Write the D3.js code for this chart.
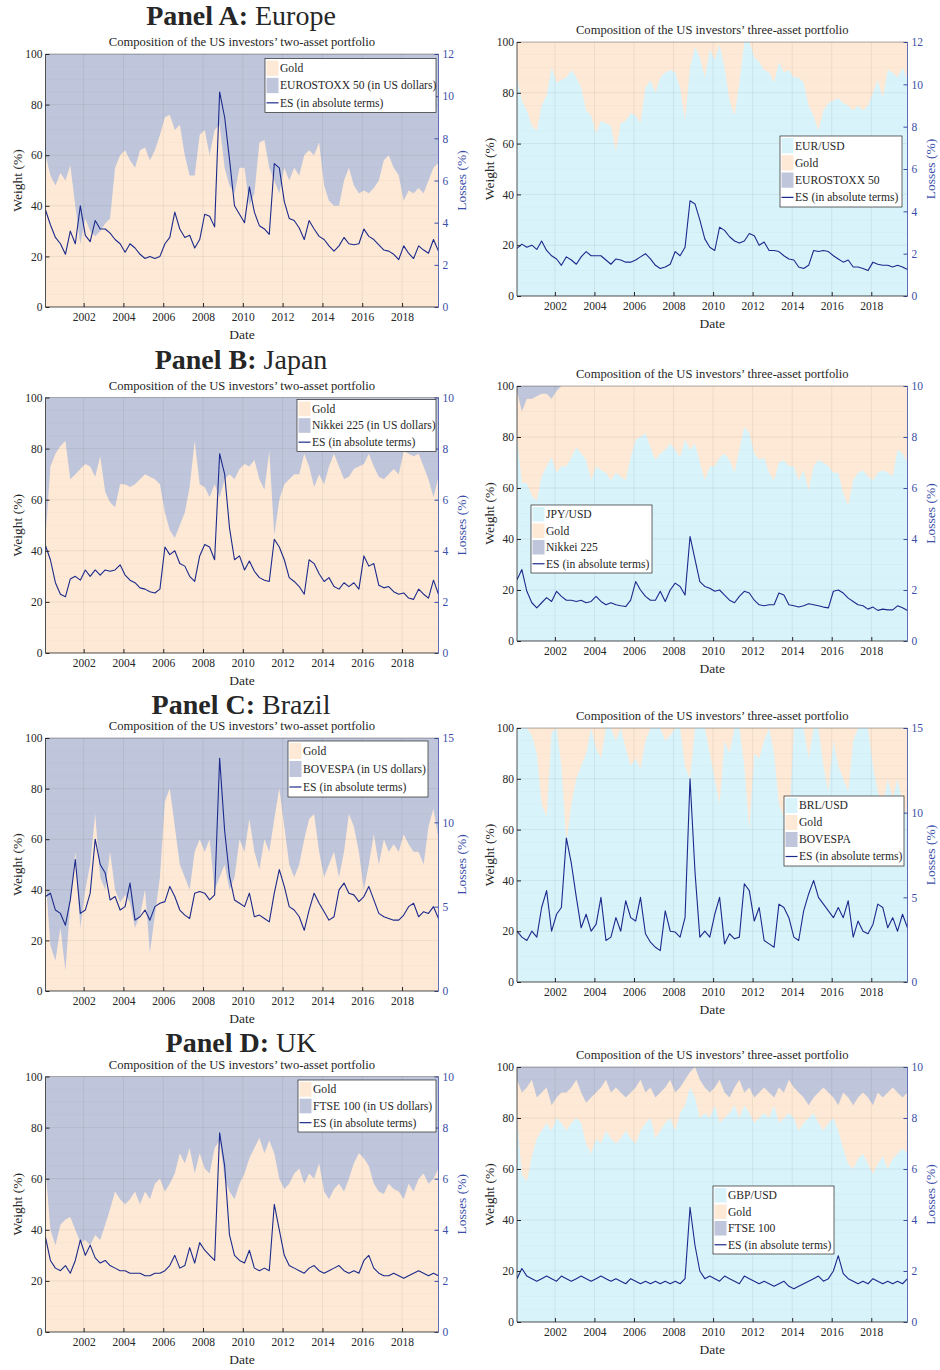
<!DOCTYPE html>
<html>
<head>
<meta charset="utf-8">
<script src="https://cdn.jsdelivr.net/npm/d3@7"></script>
<style>
body { margin: 0; background: #fff; }
svg text { font-family: "Liberation Serif", "DejaVu Serif", serif; fill: #262626; }
</style>
</head>
<body>
<svg width="940" height="1370"></svg>
<script>
// sampling grid: one observation per quarter, Feb 2000 .. Nov 2019
var years = [2000, 2001, 2002, 2003, 2004, 2005, 2006, 2007, 2008, 2009,
             2010, 2011, 2012, 2013, 2014, 2015, 2016, 2017, 2018, 2019];
var months = ['02', '05', '08', '11'];
var yearTicks = [2002, 2004, 2006, 2008, 2010, 2012, 2014, 2016, 2018];
var weightTicks = [0, 20, 40, 60, 80, 100];

// Panel A: Europe
var goldEurope2 = [60,52,48,53,50,56,40,25,35,30, 28,30,33,35,55,60,62,58,55,62,
                   63,58,62,68,75,76,70,72,60,52, 52,68,70,60,70,72,55,48,45,55,
                   55,40,45,65,66,55,50,45,55,50, 55,52,60,62,60,65,48,42,40,40,
                   50,55,48,45,46,45,47,50,58,60, 55,52,42,46,45,47,45,50,55,57];
var esEurope2 = [4.6,3.9,3.3,3.0,2.5,3.6,3.0,4.8,3.4,3.1, 4.1,3.7,3.7,3.5,3.2,3.0,2.6,3.0,2.8,2.5,
                 2.3,2.4,2.3,2.4,3.0,3.3,4.5,3.7,3.3,3.4, 2.8,3.2,4.4,4.3,3.8,10.2,9.0,7.0,4.8,4.4,
                 4.0,5.7,4.5,3.85,3.7,3.45,6.8,6.6,5.0,4.2, 4.1,3.75,3.2,4.1,3.7,3.35,3.2,2.9,2.65,2.9,
                 3.3,3.0,2.95,3.0,3.7,3.35,3.2,2.95,2.7,2.65, 2.5,2.25,2.9,2.55,2.3,2.9,2.7,2.55,3.2,2.65];
var fxEurope3 = [86,77,73,67,65,75,79,90,84,85, 86,89,86,82,73,71,64,69,68,67,
                 57,68,69,72,71,68,82,85,80,86, 88,89,88,82,69,90,98,94,86,97,
                 93,99,90,77,71,84,100,100,94,92, 89,88,84,92,88,89,86,86,84,75,
                 71,65,73,76,77,78,76,75,73,75, 73,75,80,85,78,89,88,86,90,85];
var stockEurope3 = []; // EUROSTOXX 50 never enters the three-asset portfolio
var esEurope3 = [2.25,2.45,2.3,2.4,2.2,2.6,2.15,1.9,1.75,1.45, 1.85,1.7,1.5,1.85,2.1,1.9,1.9,1.9,1.7,1.5,
                 1.75,1.7,1.6,1.6,1.7,1.85,2.0,1.75,1.45,1.3, 1.37,1.5,2.1,1.9,2.3,4.5,4.35,3.6,2.7,2.3,
                 2.15,3.25,3.1,2.8,2.6,2.5,2.6,2.95,2.85,2.4, 2.55,2.15,2.15,2.1,1.9,1.75,1.7,1.37,1.3,1.45,
                 2.15,2.1,2.15,2.1,1.9,1.75,1.6,1.7,1.37,1.37, 1.3,1.2,1.6,1.5,1.45,1.45,1.37,1.45,1.37,1.25];

// Panel B: Japan
var goldJapan2 = [45,73,78,81,83,68,70,72,74,73, 69,77,63,59,57,66,66,65,66,68,
                  70,69,68,66,55,48,45,50,55,65, 83,66,65,61,66,61,68,70,68,72,
                  74,73,75.5,68,64,79,46,60,66,68, 70,70,78,73,65,70,66,73,78,73,
                  68,69,72,73,74,78,73,69,68,70, 72,70,79,78,77,78,73,68,61,69];
var esJapan2 = [4.2,3.65,2.75,2.3,2.2,2.9,3.0,2.85,3.25,3.0, 3.25,3.05,3.25,3.2,3.25,3.45,3.05,2.85,2.75,2.55,
                2.5,2.4,2.35,2.5,4.15,3.85,4.0,3.5,3.4,3.0, 2.8,3.8,4.25,4.15,3.65,7.8,7.0,4.9,3.65,3.8,
                3.25,3.6,3.2,2.95,2.85,2.8,4.45,4.15,3.65,2.95, 2.8,2.6,2.3,3.65,3.5,3.1,2.8,2.95,2.6,2.5,
                2.75,2.6,2.75,2.5,3.8,3.4,3.5,2.65,2.55,2.6, 2.4,2.3,2.35,2.15,2.1,2.5,2.3,2.15,2.85,2.3];
var fxJapan3 = [80,62,62,57,55,64.5,68.5,72,66,68.5, 68.5,72,76,73.5,71,63,68.5,67,66,63,
                66,64.5,63,72,79,80,81.5,76,71,73.5, 75,77.5,75,72,79,75,77.5,70,63,68.5,
                68.5,72,73.5,71,66,75,84,81.5,73.5,71, 72,66,63,70,71,68.5,68.5,63,67,59,
                68.5,71,70,68.5,66,66,58,53,63,66, 67,64.5,63,66,67,66,64.5,75,73.5,70];
var stockJapan3 = [2,10,5,5,4,3,3,5,2]; // zero from 2002 on
var esJapan3 = [2.4,2.8,1.95,1.5,1.3,1.5,1.7,1.55,1.95,1.75, 1.6,1.6,1.55,1.6,1.5,1.55,1.75,1.55,1.42,1.5,
                1.42,1.38,1.35,1.6,2.33,2.0,1.75,1.6,1.6,1.95, 1.55,2.0,2.27,2.14,1.8,4.1,3.2,2.33,2.14,2.07,
                1.95,2.0,1.8,1.6,1.5,1.75,1.95,1.88,1.6,1.42, 1.38,1.42,1.42,1.88,1.8,1.42,1.38,1.33,1.38,1.46,
                1.42,1.38,1.33,1.3,1.95,2.0,1.88,1.68,1.55,1.42, 1.38,1.25,1.33,1.2,1.25,1.22,1.22,1.38,1.3,1.2];

// Panel C: Brazil
var goldBrazil2 = [45,18,12,25,8,35,55,25,40,50, 70,45,40,55,40,35,38,35,25,30,
                   40,15,30,45,75,80,65,50,45,40, 55,60,55,60,40,45,50,40,45,60,
                   55,68,55,48,60,55,68,80,65,50, 45,50,60,68,70,55,45,50,55,45,
                   55,70,65,55,40,50,62,50,60,55, 58,55,62,58,55,55,50,65,72,60];
var esBrazil2 = [5.6,5.8,4.8,4.6,3.9,5.4,7.8,4.6,4.8,5.8, 9.0,7.5,7.0,5.4,5.6,4.8,5.0,6.4,4.2,4.4,
                 4.8,4.2,5.0,5.2,5.3,6.2,5.6,4.8,4.5,4.3, 5.8,5.9,5.8,5.4,5.7,13.8,9.5,6.8,5.4,5.2,
                 5.0,5.8,4.4,4.5,4.3,4.1,5.8,7.2,6.2,5.0, 4.8,4.4,3.6,4.8,5.8,5.2,4.7,4.2,4.4,6.0,
                 6.4,5.8,5.7,5.3,5.6,6.2,5.4,4.6,4.4,4.3, 4.2,4.2,4.5,5.0,5.2,4.4,4.7,4.6,5.0,4.3];
var fxBrazil3 = [100,100,100,97,90,70,65,98,100,85, 55,70,80,85,90,100,92,88,100,100,
                 95,100,92,85,88,84,95,100,100,100, 95,97,100,100,85,80,100,100,100,90,
                 80,70,95,90,100,100,85,60,90,88, 95,100,90,70,65,60,100,100,100,88,
                 100,100,85,75,95,85,80,75,95,100, 100,100,85,75,70,80,72,80,70,65];
var stockBrazil3 = []; // BOVESPA never enters the three-asset portfolio
var esBrazil3 = [3.0,2.65,2.45,3.0,2.65,4.4,5.4,3.0,4.0,4.4, 8.5,7.0,5.0,3.2,4.0,3.0,3.4,5.0,2.45,2.65,
                 3.8,3.0,4.8,3.8,3.6,5.0,2.85,2.35,2.05,1.85, 4.2,3.0,2.95,2.65,3.8,12.0,6.5,2.65,3.0,2.65,
                 4.0,5.0,2.25,2.85,2.55,2.65,5.8,5.4,3.6,4.4, 2.45,2.25,2.05,4.6,4.4,3.8,2.65,2.45,4.2,5.2,
                 6.0,5.0,4.6,4.2,3.8,4.4,3.8,4.8,2.65,3.6, 3.0,2.85,3.4,4.6,4.4,3.2,3.8,3.0,4.0,3.2];

// Panel D: UK
var goldUK2 = [64,40,34,42,44,45,40,35,36,34, 38,36,42,48,55,52,50,52,55,50,
               55,52,58,60,55,58,62,70,66,72, 62,70,64,62,72,75,60,55,52,58,
               62,68,72,76,70,75,70,60,56,58, 62,64,58,62,60,66,55,52,56,58,
               55,60,66,70,68,65,58,55,54,58, 56,55,52,58,55,60,62,58,60,64];
var esUK2 = [3.7,2.8,2.5,2.4,2.6,2.3,2.8,3.6,3.0,3.4, 2.9,2.7,2.8,2.6,2.5,2.4,2.4,2.3,2.3,2.3,
             2.2,2.2,2.3,2.3,2.4,2.6,3.0,2.5,2.6,3.3, 2.7,3.5,3.2,3.0,2.8,7.8,6.5,3.8,3.0,2.8,
             2.7,3.2,2.5,2.4,2.5,2.4,5.0,4.0,3.0,2.6, 2.5,2.4,2.3,2.5,2.6,2.4,2.3,2.4,2.5,2.6,
             2.4,2.3,2.4,2.3,2.8,3.0,2.5,2.3,2.2,2.2, 2.3,2.2,2.1,2.2,2.3,2.4,2.3,2.2,2.3,2.2];
var fxUK3 = [80,58,55,65,72,75,78,75,80,78, 75,78,80,78,70,66,72,70,75,72,
             70,72,75,72,70,75,78,80,72,75, 78,80,75,82,85,92,88,80,82,80,
             85,78,80,82,85,80,85,82,78,80, 82,80,85,78,80,82,80,75,78,80,
             82,78,75,78,80,75,68,62,60,64, 66,62,58,62,65,60,64,66,68,66];
var stockUK3 = [5,10,8,5,12,10,8,15,12,10, 10,8,5,10,14,12,10,8,5,10,
                8,10,12,10,8,5,10,8,12,10, 8,5,10,8,5,2,0,5,8,10,
                8,5,10,12,8,5,10,8,12,10, 8,10,12,8,10,5,8,10,12,15,
                12,10,8,10,12,15,10,12,15,12, 10,12,15,10,12,10,8,10,12,10];
var esUK3 = [1.7,2.1,1.8,1.7,1.6,1.7,1.8,1.7,1.6,1.8, 1.7,1.6,1.7,1.8,1.7,1.6,1.7,1.8,1.7,1.6,
             1.7,1.6,1.5,1.7,1.6,1.5,1.6,1.5,1.6,1.5, 1.6,1.5,1.6,1.5,1.7,4.5,3.0,2.0,1.7,1.8,
             1.7,1.6,1.8,1.7,1.6,1.5,1.8,1.7,1.6,1.5, 1.6,1.5,1.4,1.5,1.6,1.4,1.3,1.4,1.5,1.6,
             1.7,1.8,1.6,1.7,2.0,2.6,1.9,1.7,1.6,1.5, 1.6,1.5,1.7,1.6,1.5,1.6,1.5,1.6,1.5,1.7];

var colGold = '#fde9d5';
var colStock = '#bfc6db';
var colFx = '#d9f3fb';
var colLine = '#1b2a8c';
var colRight = '#3a4ea8';
var colAxis = '#262626';

var svg = d3.select('svg');
var parseMonth = d3.timeParse('%Y-%m');
var dates = [];
years.forEach(function(y) {
	months.forEach(function(m) { dates.push(parseMonth(y + '-' + m)); });
});

var columns = {
	left: {x0: 45.5, x1: 438.5, wLabel: 17, lLabel: 461},
	right: {x0: 517, x1: 907.5, wLabel: 489, lLabel: 930}
};

var panels = [
	{letter: 'A', name: 'Europe', stock: 'EUROSTOXX 50', fx: 'EUR/USD', esMax: 12, esTicks: [0,2,4,6,8,10,12],
	 gold2: goldEurope2, es2: esEurope2, fx3: fxEurope3, stock3: stockEurope3, es3: esEurope3,
	 titleY: 25,
	 left: {top: 54, bottom: 307, legend: [265, 58.5, 171, 54]},
	 right: {top: 42, bottom: 296, legend: [780, 136, 122, 71]}},
	{letter: 'B', name: 'Japan', stock: 'Nikkei 225', fx: 'JPY/USD', esMax: 10, esTicks: [0,2,4,6,8,10],
	 gold2: goldJapan2, es2: esJapan2, fx3: fxJapan3, stock3: stockJapan3, es3: esJapan3,
	 titleY: 369,
	 left: {top: 397.5, bottom: 653, legend: [297, 399.5, 139, 52]},
	 right: {top: 386, bottom: 641, legend: [531, 505, 121, 68]}},
	{letter: 'C', name: 'Brazil', stock: 'BOVESPA', fx: 'BRL/USD', esMax: 15, esTicks: [0,5,10,15],
	 gold2: goldBrazil2, es2: esBrazil2, fx3: fxBrazil3, stock3: stockBrazil3, es3: esBrazil3,
	 titleY: 714,
	 left: {top: 738, bottom: 991, legend: [288, 741, 140, 56]},
	 right: {top: 728, bottom: 982, legend: [784, 796, 120, 70]}},
	{letter: 'D', name: 'UK', stock: 'FTSE 100', fx: 'GBP/USD', esMax: 10, esTicks: [0,2,4,6,8,10],
	 gold2: goldUK2, es2: esUK2, fx3: fxUK3, stock3: stockUK3, es3: esUK3,
	 titleY: 1052,
	 left: {top: 1076.5, bottom: 1332, legend: [298, 1080, 138, 52]},
	 right: {top: 1067, bottom: 1322, legend: [713, 1186, 121, 68]}}
];

var clipId = 0;

function drawLegend(g, lg, items) {
	g.append('rect')
		.attr('x', lg[0]).attr('y', lg[1]).attr('width', lg[2]).attr('height', lg[3])
		.attr('fill', '#fff').attr('stroke', colAxis).attr('stroke-width', 0.7);
	var rowH = (lg[3] - 2) / items.length;
	items.forEach(function(it, i) {
		var top = lg[1] + 1 + rowH * i;
		var cy = top + rowH / 2;
		if (it.line) {
			g.append('line').attr('x1', lg[0] + 1.5).attr('x2', lg[0] + 13.5)
				.attr('y1', cy).attr('y2', cy).attr('stroke', colLine).attr('stroke-width', 1.2);
		} else {
			g.append('rect').attr('x', lg[0] + 1.5).attr('y', top + 1).attr('width', 12).attr('height', rowH - 2)
				.attr('fill', it.color);
		}
		g.append('text').attr('x', lg[0] + 15).attr('y', cy).attr('dy', '0.34em')
			.attr('font-size', 11.6).text(it.label);
	});
}

function drawChart(p, side) {
	var c = columns[side];
	var box = p[side];
	var three = side === 'right';
	var g = svg.append('g');

	var x = d3.scaleTime().domain(d3.extent(dates)).range([c.x0, c.x1]);
	var yW = d3.scaleLinear().domain([0, 100]).range([box.bottom, box.top]);
	var yE = d3.scaleLinear().domain([0, p.esMax]).range([box.bottom, box.top]);

	var rows = dates.map(function(d, i) {
		if (three) {
			return {date: d, fx: p.fx3[i], upper: 100 - (p.stock3[i] || 0), es: p.es3[i]};
		}
		return {date: d, gold: p.gold2[i], es: p.es2[i]};
	});

	var id = 'clip' + (clipId++);
	g.append('clipPath').attr('id', id).append('rect')
		.attr('x', c.x0).attr('y', box.top).attr('width', c.x1 - c.x0).attr('height', box.bottom - box.top);
	var plot = g.append('g').attr('clip-path', 'url(#' + id + ')');

	plot.append('rect').attr('x', c.x0).attr('y', box.top)
		.attr('width', c.x1 - c.x0).attr('height', box.bottom - box.top).attr('fill', colStock);

	if (three) {
		plot.append('path').datum(rows).attr('fill', colGold)
			.attr('d', d3.area().x(function(d) { return x(d.date); }).y0(box.bottom)
				.y1(function(d) { return yW(d.upper); }));
		plot.append('path').datum(rows).attr('fill', colFx)
			.attr('d', d3.area().x(function(d) { return x(d.date); }).y0(box.bottom)
				.y1(function(d) { return yW(d.fx); }));
	} else {
		plot.append('path').datum(rows).attr('fill', colGold)
			.attr('d', d3.area().x(function(d) { return x(d.date); }).y0(box.bottom)
				.y1(function(d) { return yW(d.gold); }));
	}

	// grid
	var minor = d3.range(5, 100, 5).filter(function(v) { return v % 20 !== 0; });
	plot.selectAll('.minor').data(minor).enter().append('line')
		.attr('x1', c.x0).attr('x2', c.x1)
		.attr('y1', function(v) { return yW(v); }).attr('y2', function(v) { return yW(v); })
		.attr('stroke', '#000').attr('stroke-opacity', 0.035).attr('stroke-width', 0.6);
	plot.selectAll('.hgrid').data(weightTicks).enter().append('line')
		.attr('x1', c.x0).attr('x2', c.x1)
		.attr('y1', function(v) { return yW(v); }).attr('y2', function(v) { return yW(v); })
		.attr('stroke', '#000').attr('stroke-opacity', 0.09).attr('stroke-width', 0.7);
	plot.selectAll('.vgrid').data(yearTicks).enter().append('line')
		.attr('x1', function(v) { return x(new Date(v, 0, 1)); })
		.attr('x2', function(v) { return x(new Date(v, 0, 1)); })
		.attr('y1', box.top).attr('y2', box.bottom)
		.attr('stroke', '#000').attr('stroke-opacity', 0.09).attr('stroke-width', 0.7);

	plot.append('path').datum(rows).attr('fill', 'none').attr('stroke', colLine)
		.attr('stroke-width', 1.1).attr('stroke-linejoin', 'round')
		.attr('d', d3.line().x(function(d) { return x(d.date); }).y(function(d) { return yE(d.es); }));

	// axes
	var xAxis = d3.axisBottom(x).tickValues(yearTicks.map(function(v) { return new Date(v, 0, 1); }))
		.tickFormat(d3.timeFormat('%Y')).tickSize(-4).tickPadding(6);
	var ax = g.append('g').attr('transform', 'translate(0,' + box.bottom + ')').call(xAxis);
	ax.select('.domain').remove();
	ax.selectAll('line').attr('stroke', colAxis);
	ax.selectAll('text').attr('font-size', 11.5).attr('fill', colAxis);

	var yAxis = d3.axisLeft(yW).tickValues(weightTicks).tickSize(-4).tickPadding(3);
	var ay = g.append('g').attr('transform', 'translate(' + c.x0 + ',0)').call(yAxis);
	ay.select('.domain').remove();
	ay.selectAll('line').attr('stroke', colAxis);
	ay.selectAll('text').attr('font-size', 11.5).attr('fill', colAxis);

	var eAxis = d3.axisRight(yE).tickValues(p.esTicks).tickSize(-4).tickPadding(4);
	var ae = g.append('g').attr('transform', 'translate(' + c.x1 + ',0)').call(eAxis);
	ae.select('.domain').remove();
	ae.selectAll('line').attr('stroke', colRight);
	ae.selectAll('text').attr('font-size', 11.5).attr('fill', colRight).style('fill', colRight);

	// frame
	g.append('line').attr('x1', c.x0).attr('x2', c.x1).attr('y1', box.top).attr('y2', box.top)
		.attr('stroke', colAxis).attr('stroke-width', 0.6).attr('stroke-opacity', 0.6);
	g.append('line').attr('x1', c.x0).attr('x2', c.x1).attr('y1', box.bottom).attr('y2', box.bottom)
		.attr('stroke', colAxis).attr('stroke-width', 0.8);
	g.append('line').attr('x1', c.x0).attr('x2', c.x0).attr('y1', box.top).attr('y2', box.bottom)
		.attr('stroke', colAxis).attr('stroke-width', 0.8);
	g.append('line').attr('x1', c.x1).attr('x2', c.x1).attr('y1', box.top).attr('y2', box.bottom)
		.attr('stroke', colRight).attr('stroke-width', 0.8);

	// labels
	var cx = (c.x0 + c.x1) / 2;
	var cy = (box.top + box.bottom) / 2;
	g.append('text').attr('x', cx).attr('y', box.top - 8).attr('text-anchor', 'middle')
		.attr('font-size', 12.6)
		.text('Composition of the US investors\u2019 ' + (three ? 'three' : 'two') + '-asset portfolio');
	g.append('text').attr('x', cx).attr('y', box.bottom + 32).attr('text-anchor', 'middle')
		.attr('font-size', 13.5).text('Date');
	g.append('text').attr('transform', 'translate(' + c.wLabel + ',' + cy + ') rotate(-90)')
		.attr('text-anchor', 'middle').attr('dy', '0.35em').attr('font-size', 13.5).text('Weight (%)');
	g.append('text').attr('transform', 'translate(' + c.lLabel + ',' + cy + ') rotate(-90)')
		.attr('text-anchor', 'middle').attr('dy', '0.35em').attr('font-size', 13.5)
		.style('fill', colRight).text('Losses (%)');

	var items;
	if (three) {
		items = [{label: p.fx, color: colFx}, {label: 'Gold', color: colGold},
			{label: p.stock, color: colStock}, {label: 'ES (in absolute terms)', line: true}];
	} else {
		items = [{label: 'Gold', color: colGold}, {label: p.stock + ' (in US dollars)', color: colStock},
			{label: 'ES (in absolute terms)', line: true}];
	}
	drawLegend(g, box.legend, items);
}

panels.forEach(function(p) {
	var t = svg.append('text').attr('x', 241).attr('y', p.titleY).attr('text-anchor', 'middle')
		.attr('font-size', 28);
	t.append('tspan').attr('font-weight', 'bold').text('Panel ' + p.letter + ':');
	t.append('tspan').text(' ' + p.name);
	drawChart(p, 'left');
	drawChart(p, 'right');
});
</script>
</body>
</html>
